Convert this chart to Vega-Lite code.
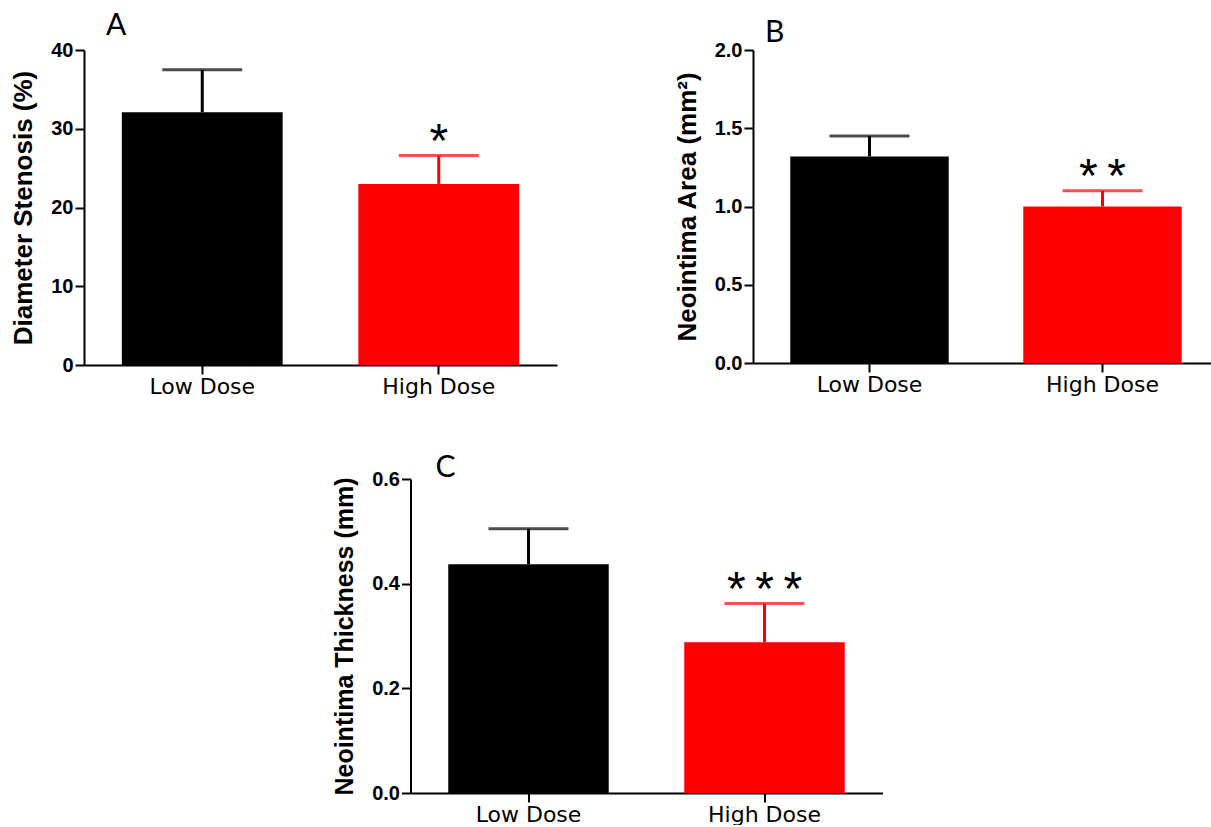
{
  "$schema": "https://vega.github.io/schema/vega-lite/v6.json",
  "padding": {"left": 10, "top": 10, "right": 0, "bottom": 0},
  "background": "white",
  "datasets": {
    "A": [
      {"group": "Low Dose", "value": 32.1, "upper": 37.5, "star": ""},
      {"group": "High Dose", "value": 23.0, "upper": 26.6, "star": "*"}
    ],
    "B": [
      {"group": "Low Dose", "value": 1.32, "upper": 1.45, "star": ""},
      {"group": "High Dose", "value": 1.0, "upper": 1.1, "star": "*\u2009*"}
    ],
    "C": [
      {"group": "Low Dose", "value": 0.437, "upper": 0.505, "star": ""},
      {"group": "High Dose", "value": 0.288, "upper": 0.362, "star": "*\u2009*\u2009*"}
    ],
    "spacer": [{"v": 0}]
  },
  "config": {
    "view": {"stroke": null},
    "axis": {"domainColor": "black", "domainWidth": 2, "tickColor": "black", "tickWidth": 2, "grid": false, "labelColor": "black", "titleColor": "black"},
    "axisY": {"labelFont": "Liberation Sans", "labelFontWeight": "bold", "labelFontSize": 20, "tickSize": 9, "labelPadding": 2, "titleFont": "Liberation Sans", "titleFontWeight": "bold", "titleFontSize": 26, "titlePadding": 14},
    "axisX": {"labelFont": "DejaVu Sans", "labelFontSize": 22, "labelAngle": 0, "tickSize": 9, "labelPadding": 2, "title": null},
    "title": {"font": "Lato", "fontSize": 30, "fontWeight": "normal", "anchor": "start", "frame": "group", "color": "black"},
    "scale": {"bandPaddingInner": 0.32, "bandPaddingOuter": 0.16}
  },
  "vconcat": [
    {
      "hconcat": [
        {
          "title": {"text": "A", "dx": 22, "offset": -8},
          "width": 473, "height": 315,
          "data": {"name": "A"},
          "encoding": {
            "x": {"field": "group", "type": "nominal", "sort": ["Low Dose", "High Dose"], "axis": {"title": null}},
            "color": {"field": "group", "type": "nominal", "scale": {"domain": ["Low Dose", "High Dose"], "range": ["#000000", "#ff0000"]}, "legend": null}
          },
          "layer": [
            {"mark": {"type": "rule", "strokeWidth": 3}, "encoding": {"y": {"field": "value", "type": "quantitative"}, "y2": {"field": "upper"}}},
            {"mark": {"type": "tick", "size": 80, "thickness": 3}, "encoding": {"y": {"field": "upper", "type": "quantitative"}}},
            {"mark": {"type": "bar"}, "encoding": {"y": {"field": "value", "type": "quantitative", "scale": {"domain": [0, 40], "nice": false}, "axis": {"title": "Diameter Stenosis (%)", "values": [0, 10, 20, 30, 40]}}}},
            {"mark": {"type": "text", "font": "Liberation Sans", "fontSize": 48, "baseline": "alphabetic", "dy": 1}, "encoding": {"y": {"field": "upper", "type": "quantitative"}, "text": {"field": "star"}, "color": {"value": "black"}}}
          ]
        },
        {
          "title": {"text": "B", "dx": 12, "offset": -8},
          "width": 466, "height": 313,
          "data": {"name": "B"},
          "encoding": {
            "x": {"field": "group", "type": "nominal", "sort": ["Low Dose", "High Dose"], "axis": {"title": null}},
            "color": {"field": "group", "type": "nominal", "scale": {"domain": ["Low Dose", "High Dose"], "range": ["#000000", "#ff0000"]}, "legend": null}
          },
          "layer": [
            {"mark": {"type": "rule", "strokeWidth": 3}, "encoding": {"y": {"field": "value", "type": "quantitative"}, "y2": {"field": "upper"}}},
            {"mark": {"type": "tick", "size": 80, "thickness": 3}, "encoding": {"y": {"field": "upper", "type": "quantitative"}}},
            {"mark": {"type": "bar"}, "encoding": {"y": {"field": "value", "type": "quantitative", "scale": {"domain": [0, 2], "nice": false}, "axis": {"title": "Neointima Area (mm²)", "values": [0, 0.5, 1, 1.5, 2], "format": ".1f"}}}},
            {"mark": {"type": "text", "font": "Liberation Sans", "fontSize": 48, "baseline": "alphabetic", "dy": 1}, "encoding": {"y": {"field": "upper", "type": "quantitative"}, "text": {"field": "star"}, "color": {"value": "black"}}}
          ]
        }
      ],
      "spacing": 117
    },
    {
      "hconcat": [
        {
          "title": {"text": "C", "dx": 25, "offset": -14},
          "width": 472, "height": 314,
          "data": {"name": "C"},
          "encoding": {
            "x": {"field": "group", "type": "nominal", "sort": ["Low Dose", "High Dose"], "axis": {"title": null}},
            "color": {"field": "group", "type": "nominal", "scale": {"domain": ["Low Dose", "High Dose"], "range": ["#000000", "#ff0000"]}, "legend": null}
          },
          "layer": [
            {"mark": {"type": "rule", "strokeWidth": 3}, "encoding": {"y": {"field": "value", "type": "quantitative"}, "y2": {"field": "upper"}}},
            {"mark": {"type": "tick", "size": 80, "thickness": 3}, "encoding": {"y": {"field": "upper", "type": "quantitative"}}},
            {"mark": {"type": "bar"}, "encoding": {"y": {"field": "value", "type": "quantitative", "scale": {"domain": [0, 0.6], "nice": false}, "axis": {"title": "Neointima Thickness (mm)", "titleFontSize": 25, "values": [0, 0.2, 0.4, 0.6], "format": ".1f"}}}},
            {"mark": {"type": "text", "font": "Liberation Sans", "fontSize": 48, "baseline": "alphabetic", "dy": 1}, "encoding": {"y": {"field": "upper", "type": "quantitative"}, "text": {"field": "star"}, "color": {"value": "black"}}}
          ]
        },
        {
          "width": 6, "height": 10,
          "data": {"name": "spacer"},
          "mark": {"type": "point", "opacity": 0},
          "encoding": {}
        }
      ],
      "spacing": 4
    }
  ],
  "spacing": 56,
  "center": true
}
